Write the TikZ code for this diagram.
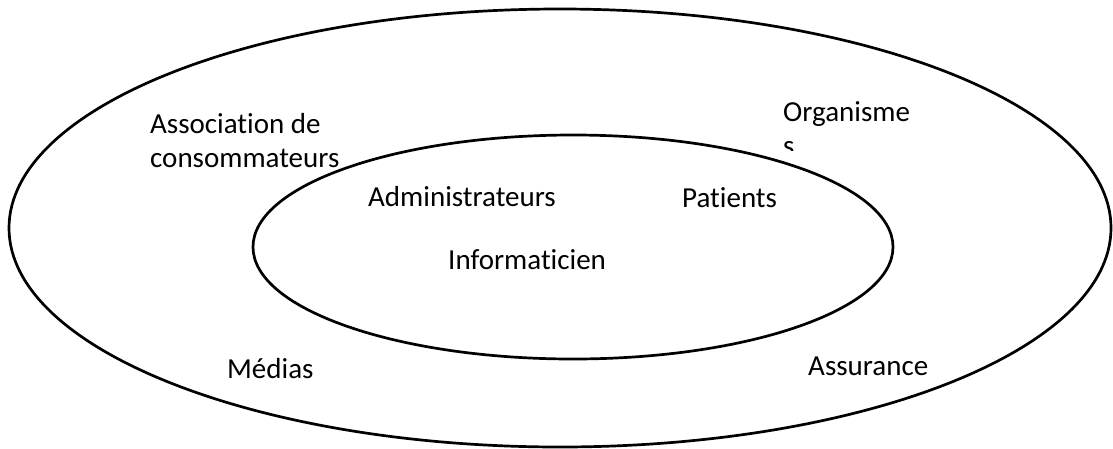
\documentclass[tikz,border=0pt]{standalone}
\usepackage{fontspec}
\setmainfont{Carlito}[Ligatures=NoCommon]
\usetikzlibrary{shapes.geometric}
\begin{document}
\begin{tikzpicture}[x=1pt,y=-1pt,
  ring/.style={draw=black, line width=2.7pt, ellipse, inner sep=0pt},
  label/.style={anchor=base west, inner sep=0pt, align=left,
                font=\fontsize{29}{34}\selectfont}]
  \useasboundingbox (0,0) rectangle (1113,448);
  % stakeholder labels (base of a two-line label is its last line)
  \node[label] (assoc) at (150,167) {Association de\\consommateurs};
  \node[label] (org)   at (783,121) {Organisme};
  \begin{scope}
    \clip (770,125) rectangle (830,150);
    \node[label] (orgs) at (783,155) {s};
  \end{scope}
  \node[label] (admin) at (368,206) {Administrateurs};
  \node[label] (pat)   at (682,207) {Patients};
  \node[label] (info)  at (448,269) {Informaticien};
  \node[label] (med)   at (227,378) {Médias};
  \node[label] (ass)   at (808,375) {Assurance};
  % outer and inner circles
  \node[ring, minimum width=1102pt, minimum height=438pt] (outer) at (560,228) {};
  \node[ring, minimum width=640pt, minimum height=224pt] (inner) at (573,247) {};
\end{tikzpicture}
\end{document}
